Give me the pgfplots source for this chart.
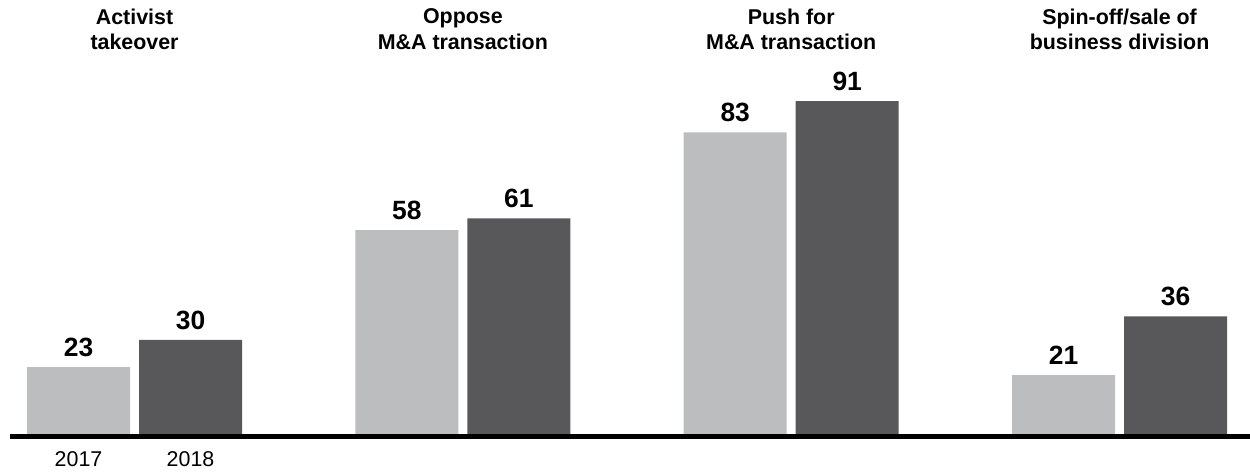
\documentclass[border=0pt]{standalone}
\usepackage{pgfplots}
\pgfplotsset{compat=1.18}
\usepackage{fontspec}
\setmainfont{Liberation Sans}
\definecolor{lightbar}{HTML}{BCBDBF}
\definecolor{darkbar}{HTML}{58585A}
\definecolor{baseline}{HTML}{231F20}
\begin{document}
\begin{tikzpicture}[
  grouptitle/.style={anchor=north, inner sep=0pt, align=center, font=\bfseries\fontsize{10.7}{12.6}\selectfont}]
\begin{axis}[
  scale only axis,
  width=625pt, height=217pt,
  xmin=-0.4097, xmax=3.3973,
  ymin=5.93, ymax=116.81,
  ybar=4.5pt, bar width=51.5pt,
  axis line style={draw=none},
  ytick=\empty,
  xtick={-0.1706,0.1706},
  xticklabels={2017,2018},
  major tick length=0pt,
  /pgf/number format/assume math mode=true,
  xticklabel style={font=\fontsize{10.7}{12}\selectfont, anchor=north, inner sep=0pt, yshift=-8.6pt},
  nodes near coords,
  every node near coord/.append style={font=\bfseries\fontsize{13.2}{14}\selectfont, anchor=south, inner sep=0pt, yshift=5pt, text=black},
]
\addplot[fill=lightbar, draw=none] coordinates {(0,23) (1,58) (2,83) (3,21)};
\addplot[fill=darkbar, draw=none] coordinates {(0,30) (1,61) (2,91) (3,36)};
\coordinate (tl) at (rel axis cs:0,1);
\coordinate (bl) at (rel axis cs:0,0);
\coordinate (br) at (rel axis cs:1,0);
\node[grouptitle] at (axis cs:0,114.6) {Activist\\takeover};
\node[grouptitle] at (axis cs:1,114.6) {Oppose\\M\&A transaction};
\node[grouptitle] at (axis cs:2,114.6) {Push for\\M\&A transaction};
\node[grouptitle] at (axis cs:3,114.6) {Spin-off/sale of\\business division};
\end{axis}
\draw[baseline, line width=2.5pt] ([xshift=5pt, yshift=-1.25pt]bl) -- ([yshift=-1.25pt]br);
\pgfresetboundingbox
\useasboundingbox (tl) rectangle ([yshift=-20pt]br);
\end{tikzpicture}
\end{document}
